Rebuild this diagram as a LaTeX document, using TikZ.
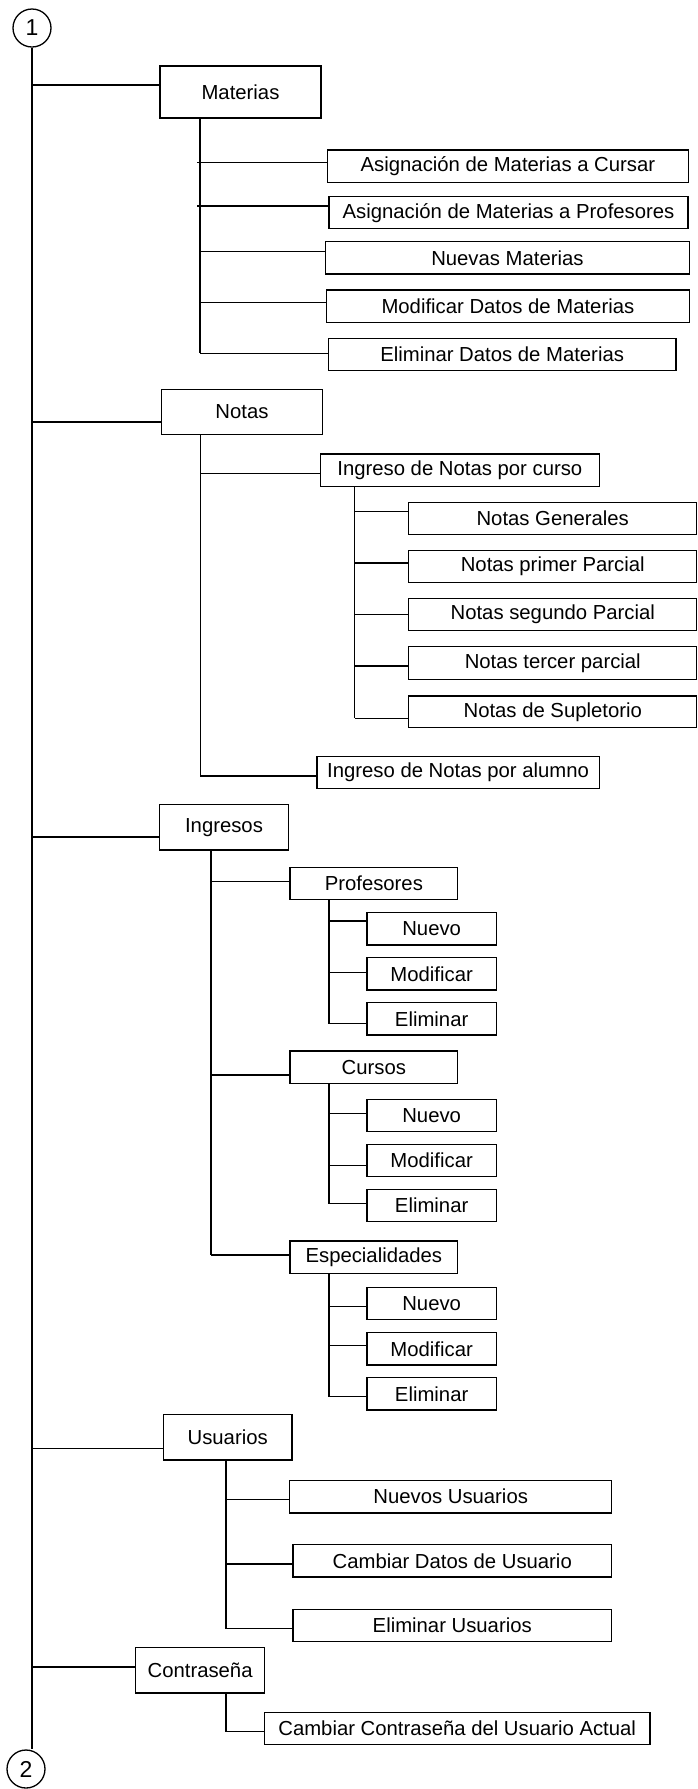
\documentclass[tikz,border=0pt]{standalone}
\usepackage{fontspec}
\setmainfont{Liberation Sans}
\begin{document}
\begin{tikzpicture}[x=1pt,y=-1pt,
  bxs/.style={draw, line width=1.3pt, rectangle, inner sep=0pt, outer sep=0pt,
    font=\fontsize{20.3}{24}\selectfont},
  cir/.style={draw, line width=1.3pt, circle, minimum size=38pt, inner sep=0pt,
    font=\fontsize{23}{27}\selectfont},
  ln/.style={line width=1.3pt}]
\useasboundingbox (0,0) rectangle (698,1789);

% box from its corners: name, x1, y1, x2, y2, text
\newcommand\bx[6]{\node[bxs, minimum width={(#4)-(#2)}, minimum height={(#5)-(#3)}]
  (#1) at ({((#2)+(#4))/2},{((#3)+(#5))/2}) {#6};}
% branch: child name, start x, y of the horizontal line
\newcommand\br[3]{\coordinate (#1j) at (#2,#3); \draw[ln] (#1j) -- (#1j -| #1.west);}

% connectors 1 and 2
\node[cir] (c1) at (32,28) {1};
\node[cir] (c2) at (26,1769) {2};
\draw[ln] (c1.south) -- (c1.south |- c2.north);

% first level
\bx{mat}{160}{66}{321}{118}{Materias}
\bx{not}{161.6}{389.3}{322.3}{434.3}{Notas}
\bx{ing}{159.7}{804.7}{288.3}{850}{Ingresos}
\bx{usu}{163.4}{1414.7}{292}{1460}{Usuarios}
\bx{con}{135.8}{1647.7}{264.4}{1693}{Contraseña}
\br{mat}{31.5}{85}
\br{not}{31.5}{422}
\br{ing}{31.5}{837}
\br{usu}{31.5}{1448.7}
\br{con}{31.5}{1667}

% Materias
\bx{ma1}{327.6}{150}{688.3}{182.3}{Asignación de Materias a Cursar}
\bx{ma2}{329}{196.7}{688}{228.7}{Asignación de Materias a Profesores}
\bx{ma3}{325.5}{241.7}{689.3}{274}{Nuevas Materias}
\bx{ma4}{326.5}{290}{689.3}{322.3}{Modificar Datos de Materias}
\bx{ma5}{328.3}{338.3}{676}{370.7}{Eliminar Datos de Materias}
\br{ma1}{197}{162.7}
\br{ma2}{197}{206}
\br{ma3}{200}{251.7}
\br{ma4}{200}{302.7}
\br{ma5}{200}{353.3}
\draw[ln] (ma5j |- mat.south) -- (ma5j);

% Notas
\bx{ic}{320.5}{454}{599.2}{486.3}{Ingreso de Notas por curso}
\bx{ia}{317}{756.7}{599.2}{788.7}{Ingreso de Notas por alumno}
\br{ic}{200.3}{473.7}
\br{ia}{200.3}{776}
\draw[ln] (iaj |- not.south) -- (iaj);

\bx{ng}{408.7}{502.3}{696.8}{534.3}{Notas Generales}
\bx{np}{408.7}{550.7}{696.8}{582.7}{Notas primer Parcial}
\bx{ns}{408.7}{598.7}{696.8}{630.7}{Notas segundo Parcial}
\bx{nt}{408.7}{646.7}{696.8}{679.3}{Notas tercer parcial}
\bx{nsu}{408.7}{696}{696.8}{727.7}{Notas de Supletorio}
\br{ng}{354.8}{511.7}
\br{np}{354.8}{563}
\br{ns}{354.8}{614.7}
\br{nt}{354.8}{666}
\br{nsu}{354.8}{718.3}
\draw[ln] (nsuj |- ic.south) -- (nsuj);

% Ingresos
\bx{pro}{290}{867.7}{457.7}{899.7}{Profesores}
\bx{cur}{290}{1051}{457.7}{1083.3}{Cursos}
\bx{esp}{290}{1241}{457.7}{1273.3}{Especialidades}
\br{pro}{211}{881.7}
\br{cur}{211}{1075}
\br{esp}{211}{1255}
\draw[ln] (espj |- ing.south) -- (espj);

\bx{pn}{367}{912.7}{496.3}{945}{Nuevo}
\bx{pm}{367}{957.7}{496.3}{990}{Modificar}
\bx{pe}{367}{1002.7}{496.3}{1035}{Eliminar}
\br{pn}{329}{921}
\br{pm}{329}{972.3}
\br{pe}{329}{1023.7}
\draw[ln] (pej |- pro.south) -- (pej);

\bx{cn}{367}{1099.3}{496.3}{1131.7}{Nuevo}
\bx{cm}{367}{1144.3}{496.3}{1176.7}{Modificar}
\bx{ce}{367}{1189.3}{496.3}{1221.7}{Eliminar}
\br{cn}{329}{1113.7}
\br{cm}{329}{1165.3}
\br{ce}{329}{1203.7}
\draw[ln] (cej |- cur.south) -- (cej);

\bx{en}{367}{1287.3}{496.3}{1319.7}{Nuevo}
\bx{em}{367}{1332.7}{496.3}{1365}{Modificar}
\bx{ee}{367}{1377.7}{496.3}{1410}{Eliminar}
\br{en}{329}{1306.7}
\br{em}{329}{1345.3}
\br{ee}{329}{1396.7}
\draw[ln] (eej |- esp.south) -- (eej);

% Usuarios
\bx{nu}{289.8}{1480.3}{611.6}{1513}{Nuevos Usuarios}
\bx{cdu}{292.9}{1544.7}{611.6}{1577}{Cambiar Datos de Usuario}
\bx{eu}{292.9}{1609.3}{611.6}{1641.3}{Eliminar Usuarios}
\br{nu}{226.1}{1499.7}
\br{cdu}{226.1}{1564}
\br{eu}{226.1}{1628.7}
\draw[ln] (euj |- usu.south) -- (euj);

% Contraseña
\bx{cca}{264.4}{1712.3}{650}{1744.7}{Cambiar Contraseña del Usuario Actual}
\br{cca}{226.1}{1731.7}
\draw[ln] (ccaj |- con.south) -- (ccaj);
\end{tikzpicture}
\end{document}
